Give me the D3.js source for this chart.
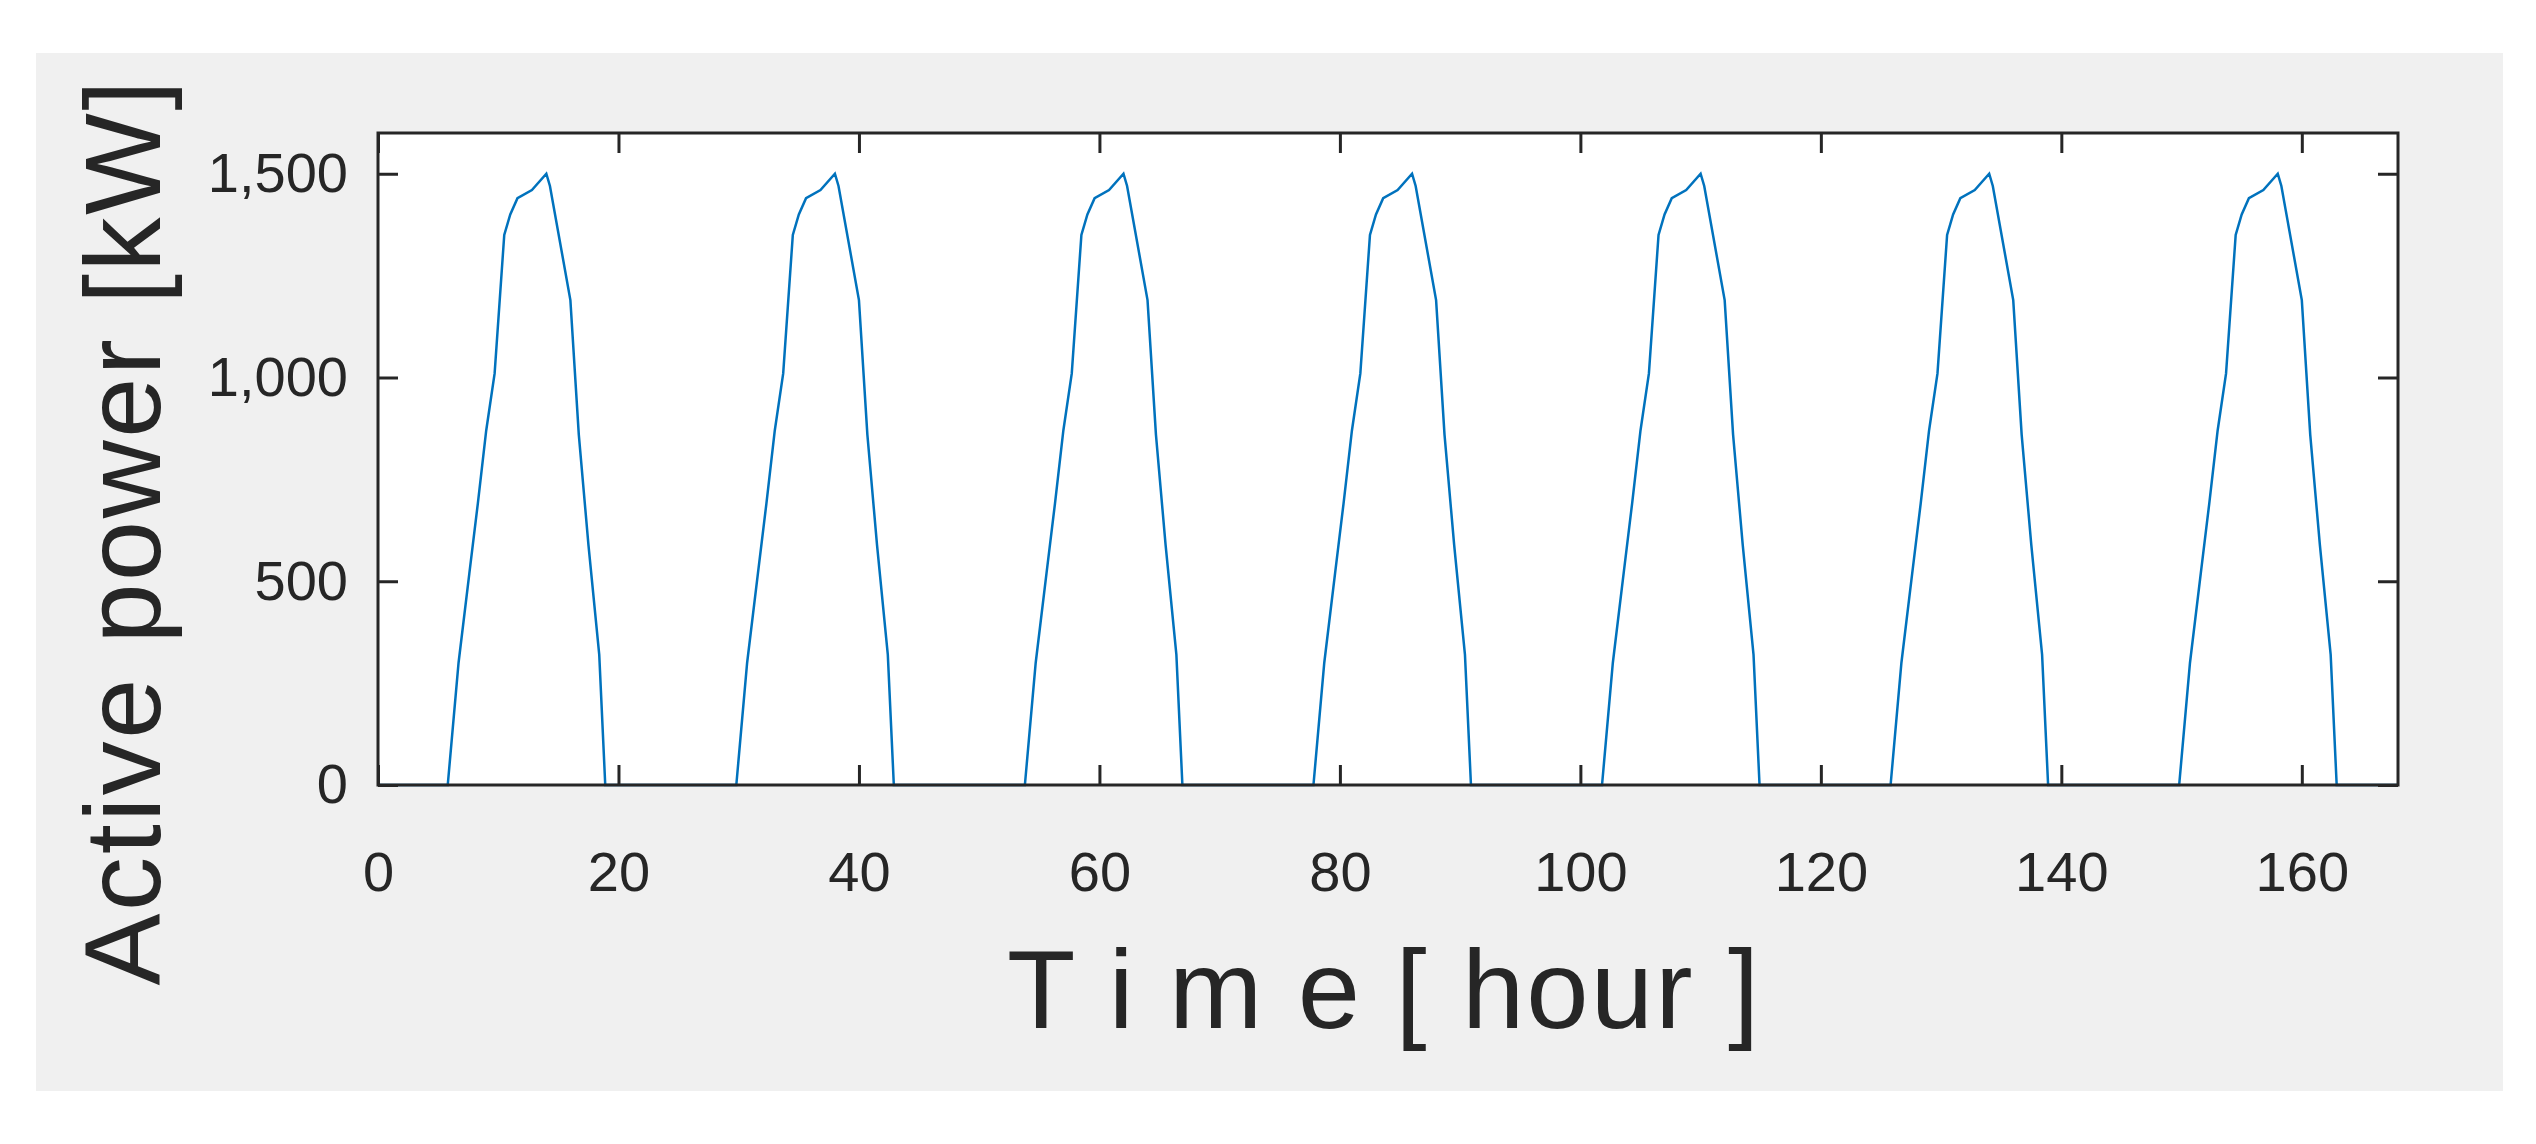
<!DOCTYPE html>
<html>
<head>
<meta charset="utf-8" />
<script src="https://d3js.org/d3.v7.min.js"></script>
<style>
  body { margin: 0; background: #fff; }
  text { font-family: "Liberation Sans", Arial, sans-serif; fill: #262626; }
</style>
</head>
<body>
<script>
// one day's profile (hour within day, kW); every day looks the same
var dayHours = [0, 5.8, 6.7, 7.6, 8.3, 9.0, 9.7, 10.5, 11.0, 11.6, 12.8, 14.0, 14.3, 16.0, 16.7, 17.5, 18.4, 18.9, 24];
var dayPower = [0, 0, 300, 520, 690, 870, 1010, 1350, 1400, 1440, 1460, 1500, 1470, 1190, 860, 590, 320, 0, 0];
var dayStarts = [0, 24, 48, 72, 96, 120, 144];
var xTicks = [0, 20, 40, 60, 80, 100, 120, 140, 160];
var yTicks = [0, 500, 1000, 1500];

var width = 2536, height = 1144;
var pLeft = 378, pRight = 2398, pTop = 133, pBottom = 785;

var svg = d3.select("body").append("svg")
  .attr("width", width).attr("height", height);

svg.append("rect").attr("x", 36).attr("y", 53)
  .attr("width", 2467).attr("height", 1038).attr("fill", "#f0f0f0");

var x = d3.scaleLinear().domain([0, 168]).range([pLeft, pRight]);
var y = d3.scaleLinear().domain([0, 1600]).range([pBottom, pTop]);

svg.append("rect").attr("x", pLeft).attr("y", pTop)
  .attr("width", pRight - pLeft).attr("height", pBottom - pTop).attr("fill", "#fff");

var points = [];
dayStarts.forEach(function (s) {
  dayHours.forEach(function (h, i) { points.push([s + h, dayPower[i]]); });
});

svg.append("path")
  .datum(points)
  .attr("fill", "none")
  .attr("stroke", "#0072BD")
  .attr("stroke-width", 2.5)
  .attr("d", d3.line().x(function (d) { return x(d[0]); }).y(function (d) { return y(d[1]); }));

var tl = 20;
function styleAxis(g) {
  g.select(".domain").remove();
  g.selectAll("line").attr("stroke", "#262626").attr("stroke-width", 3);
  g.selectAll("text").style("font-size", "56px").attr("fill", "#262626");
}
svg.append("g").attr("transform", "translate(0," + pBottom + ")")
  .call(d3.axisBottom(x).tickValues(xTicks).tickSizeInner(-tl).tickPadding(66))
  .call(styleAxis);
svg.append("g").attr("transform", "translate(0," + pTop + ")")
  .call(d3.axisTop(x).tickValues(xTicks).tickSizeInner(-tl).tickFormat(""))
  .call(styleAxis);
svg.append("g").attr("transform", "translate(" + pLeft + ",0)")
  .call(d3.axisLeft(y).tickValues(yTicks).tickSizeInner(-tl).tickPadding(30))
  .call(styleAxis);
svg.append("g").attr("transform", "translate(" + pRight + ",0)")
  .call(d3.axisRight(y).tickValues(yTicks).tickSizeInner(-tl).tickFormat(""))
  .call(styleAxis);

svg.append("rect").attr("x", pLeft).attr("y", pTop)
  .attr("width", pRight - pLeft).attr("height", pBottom - pTop)
  .attr("fill", "none").attr("stroke", "#262626").attr("stroke-width", 3);

svg.append("text")
  .attr("transform", "translate(160,533) rotate(-90)")
  .attr("text-anchor", "middle")
  .style("font-size", "108px")
  .attr("textLength", 905)
  .text("Active power [kW]");

svg.append("text")
  .attr("x", 1383).attr("y", 1028)
  .attr("text-anchor", "middle")
  .style("font-size", "112px")
  .attr("textLength", 752)
  .text("T i m e  [ hour ]");
</script>
</body>
</html>
